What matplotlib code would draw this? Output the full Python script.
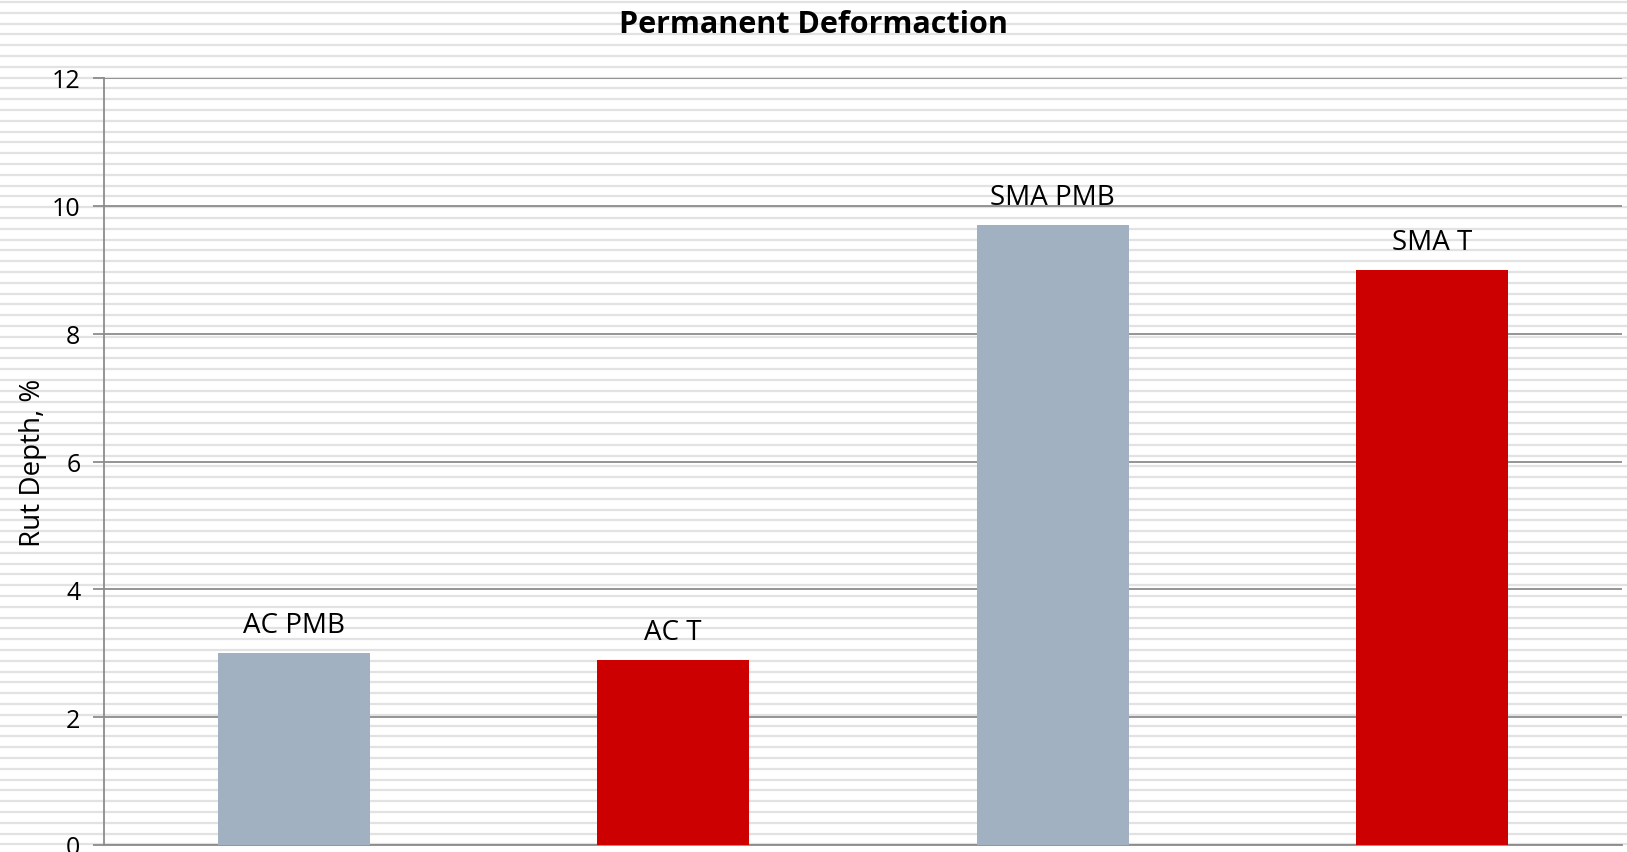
import numpy as np
import matplotlib.pyplot as plt

categories = ['AC PMB', 'AC T', 'SMA PMB', 'SMA T']
rut_depth = [3.0, 2.9, 9.7, 9.0]
bar_colors = ['#A2B1C1', '#CC0000', '#A2B1C1', '#CC0000']
yticks = [0, 2, 4, 6, 8, 10, 12]

plt.rcParams['font.family'] = ['Open Sans', 'DejaVu Sans']

W, H = 1627, 853
fig = plt.figure(figsize=(W/100, H/100), dpi=100)

# striped background over the whole figure
bg = fig.add_axes([0, 0, 1, 1], zorder=-10)
bg.set_xlim(0, W)
bg.set_ylim(H, 0)
for yy in np.arange(3, H, 10.8):
    bg.axhline(yy, color='#e2e2e2', lw=1.6)
bg.axis('off')

left, right, top, bottom = 104, 1622, 79, 846
ax = fig.add_axes([left/W, 1 - bottom/H, (right-left)/W, (bottom-top)/H])
ax.set_facecolor('none')

x = np.arange(len(categories))
bars = ax.bar(x, rut_depth, width=0.4, color=bar_colors, zorder=3)
for xi, v, lab in zip(x, rut_depth, categories):
    ax.text(xi, v + 0.22, lab, ha='center', va='bottom', fontsize=20, zorder=4)

ax.set_xlim(-0.5, len(categories) - 0.5)
ax.set_ylim(0, 12)
ax.set_yticks(yticks)
ax.set_xticks([])
ax.grid(axis='y', color='#8c8c8c', lw=1.3, zorder=1)
for s in ['top', 'right']:
    ax.spines[s].set_visible(False)
for s in ['left', 'bottom']:
    ax.spines[s].set_color('#8c8c8c')
    ax.spines[s].set_linewidth(1.3)
ax.tick_params(axis='y', length=8, width=1.3, color='#8c8c8c', labelsize=18, pad=9)
ax.set_ylabel('Rut Depth, %', fontsize=20, labelpad=3)
fig.text(0.5, 1 - 25/H, 'Permanent Deformaction', fontsize=22, fontweight='bold',
         ha='center', va='center')

fig.savefig('out.png', dpi=100)
